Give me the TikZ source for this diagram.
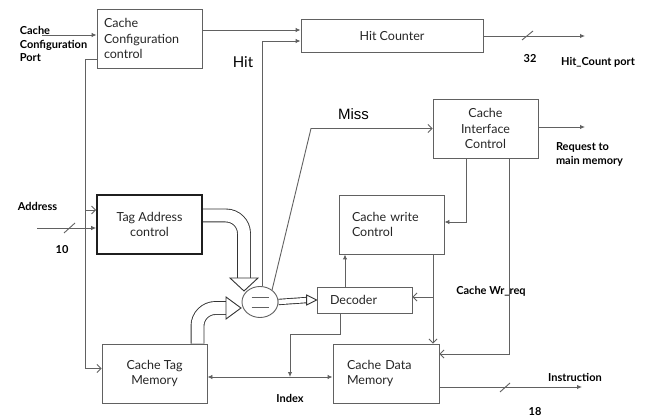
\documentclass[tikz,border=0pt]{standalone}
\usepackage{fontspec}
\setmainfont{Lato}
\newfontfamily\arialfont{Liberation Sans}
\usetikzlibrary{arrows.meta,positioning,calc,shapes.geometric,backgrounds}

\begin{document}
\begin{tikzpicture}[
  x=1pt, y=-1pt,
  line/.style={draw=black!62, line width=0.9pt},
  block/.style={line, minimum height=59pt, inner sep=0pt, text=black!85,
    font=\fontsize{12.5}{15.5}\selectfont},
  lblock/.style={block, align=left},
  cblock/.style={block, align=center},
  portlabel/.style={font=\bfseries\fontsize{11}{13.5}\selectfont, align=left, inner sep=0pt},
  fill arrow/.style={line, -{Latex[length=5pt,width=4.5pt]}},
  open arrow/.style={line, -{Straight Barb[length=4pt,width=8pt]}},
  bus/.style={draw=black!80, line width=0.9pt, double=white},
  bushead/.style={draw=black!80, line width=0.9pt, fill=white, line join=miter}
]
  \useasboundingbox (0,0) rectangle (654,417);

  % blocks
  \node[lblock, text width=91pt, inner xsep=7pt] (ccc) at (149.5,38.5) {Cache\\Configuration\\control};
  \node[cblock, minimum width=182pt, minimum height=33pt] (hc) at (392,35.5) {Hit Counter};
  \node[cblock, minimum width=105pt] (cic) at (485.5,128.5) {Cache\\Interface\\Control};
  \node[cblock, minimum width=105pt, draw=black!88, line width=1.6pt] (tac) at (149.5,224.5) {Tag Address\\control};
  \node[cblock, minimum width=105pt] (ctm) at (154.5,373.5) {Cache Tag\\Memory};
  \node[lblock, text width=79pt, inner xsep=13pt] (cwc) at (391.5,224.5) {Cache write\\Control};
  \node[lblock, text width=69pt, inner xsep=13pt, minimum height=26pt] (dec) at (364.5,300) {Decoder};
  \node[lblock, text width=78pt, inner xsep=14pt] (cdm) at (386,373.5) {Cache Data\\Memory};
  \node[line, ellipse, minimum width=36pt, minimum height=31pt, inner sep=0pt] (cmp) at (260,302) {};
  \draw[line] ($(cmp.center)+(-8.5,-4.5)$) -- ++(17,0);
  \draw[line] ($(cmp.center)+(-8.5,5)$) -- ++(17,0);

  % labels
  \node[portlabel] (cfgport) at (53.5,44) {Cache\\Configuration\\Port};
  \node[portlabel] (addr) at (37.5,206) {Address};
  \node[portlabel] (w10) at (62,250) {10};
  \node[portlabel] (w32) at (530,59) {32};
  \node[portlabel] (hcport) at (598,62) {Hit\_Count port};
  \node[portlabel] (req) at (589.5,154.5) {Request to\\main memory};
  \node[portlabel] (wrreq) at (491,291) {Cache Wr\_req};
  \node[portlabel] (idx) at (290,398) {Index};
  \node[portlabel] (instr) at (575,377) {Instruction};
  \node[portlabel] (w18) at (535,412) {18};
  \node[font=\fontsize{15}{16}\selectfont] (hit) at (243,62) {Hit};
  \node[font=\arialfont\fontsize{15}{16}\selectfont] (miss) at (353.5,114) {Miss};

  \coordinate (portin) at (42,35);
  \coordinate (addrin) at (37,228);
  \coordinate (cfgbus) at (85,59);
  \coordinate (hcout) at (585,36);
  \coordinate (reqout) at (585,127);
  \coordinate (instrout) at (582,387);

  % connectors
  \draw[fill arrow] (portin) -- (ccc.west |- portin);
  \draw[fill arrow] (ccc.east |- 0,30) -- (hc.west |- 0,30);
  \draw[open arrow] (ccc.west |- cfgbus) -- (cfgbus) |- ($(ctm.west)+(0,-5)$);
  \draw[open arrow] (cfgbus |- 0,210) -- (tac.west |- 0,210);
  \draw[fill arrow] (addrin) -- (tac.west |- addrin);
  \draw[line] (64,233) -- (75,223);
  \draw[fill arrow] (cmp.80) |- (hc.west |- 0,41);
  \draw[open arrow] (cmp.45) -- (cic.west -| 311,0) -- (cic.west);
  \draw[fill arrow] (cic.east |- reqout) -- (reqout);
  \draw[fill arrow] (hc.east |- hcout) -- (hcout);
  \draw[line] (522,40) -- (533,31);
  \draw[fill arrow] (cic.south -| 466,0) |- (cwc.east |- 0,222);
  \draw[open arrow] (cic.south -| 509,0) |- (cdm.east |- 0,354);
  \draw[open arrow] (cwc.south -| 433,0) -- (cdm.north -| 433,0);
  \draw[open arrow] (433,297) -- (dec.east |- 0,297);
  \draw[fill arrow] (dec.north -| 345,0) -- (cwc.south -| 345,0);
  \draw[fill arrow] (dec.south -| 340,0) |- (290,334) -- (290,377);
  \draw[line, {Latex[length=5pt,width=4.5pt]}-{Latex[length=5pt,width=4.5pt]}]
    (ctm.east |- 0,377) -- (cdm.west |- 0,377);
  \draw[fill arrow] (cdm.east |- instrout) -- (instrout);
  \draw[line] (500,392) -- (510,383);

  % hollow buses
  \begin{scope}[on background layer]
    \fill[white] (0,0) rectangle (654,417);
    \draw[bus, double distance=12pt, rounded corners=18pt] (tac.east |- 0,215.5) -| (244,279);
    \draw[bushead] (230,278) -- (258,278) -- (244,291) -- cycle;
    \draw[bus, double distance=12pt, rounded corners=18pt] (ctm.north -| 197.5,0) |- (227,308);
    \draw[bushead] (226,297) -- (241,308) -- (226,319) -- cycle;
    \draw[bus, double distance=4.5pt] (cmp.east) -- ($(dec.west)+(-9,0)$);
    \draw[bushead] ($(dec.west)+(-10,-5)$) -- (dec.west) -- ($(dec.west)+(-10,5)$) -- cycle;
  \end{scope}
\end{tikzpicture}
\end{document}
